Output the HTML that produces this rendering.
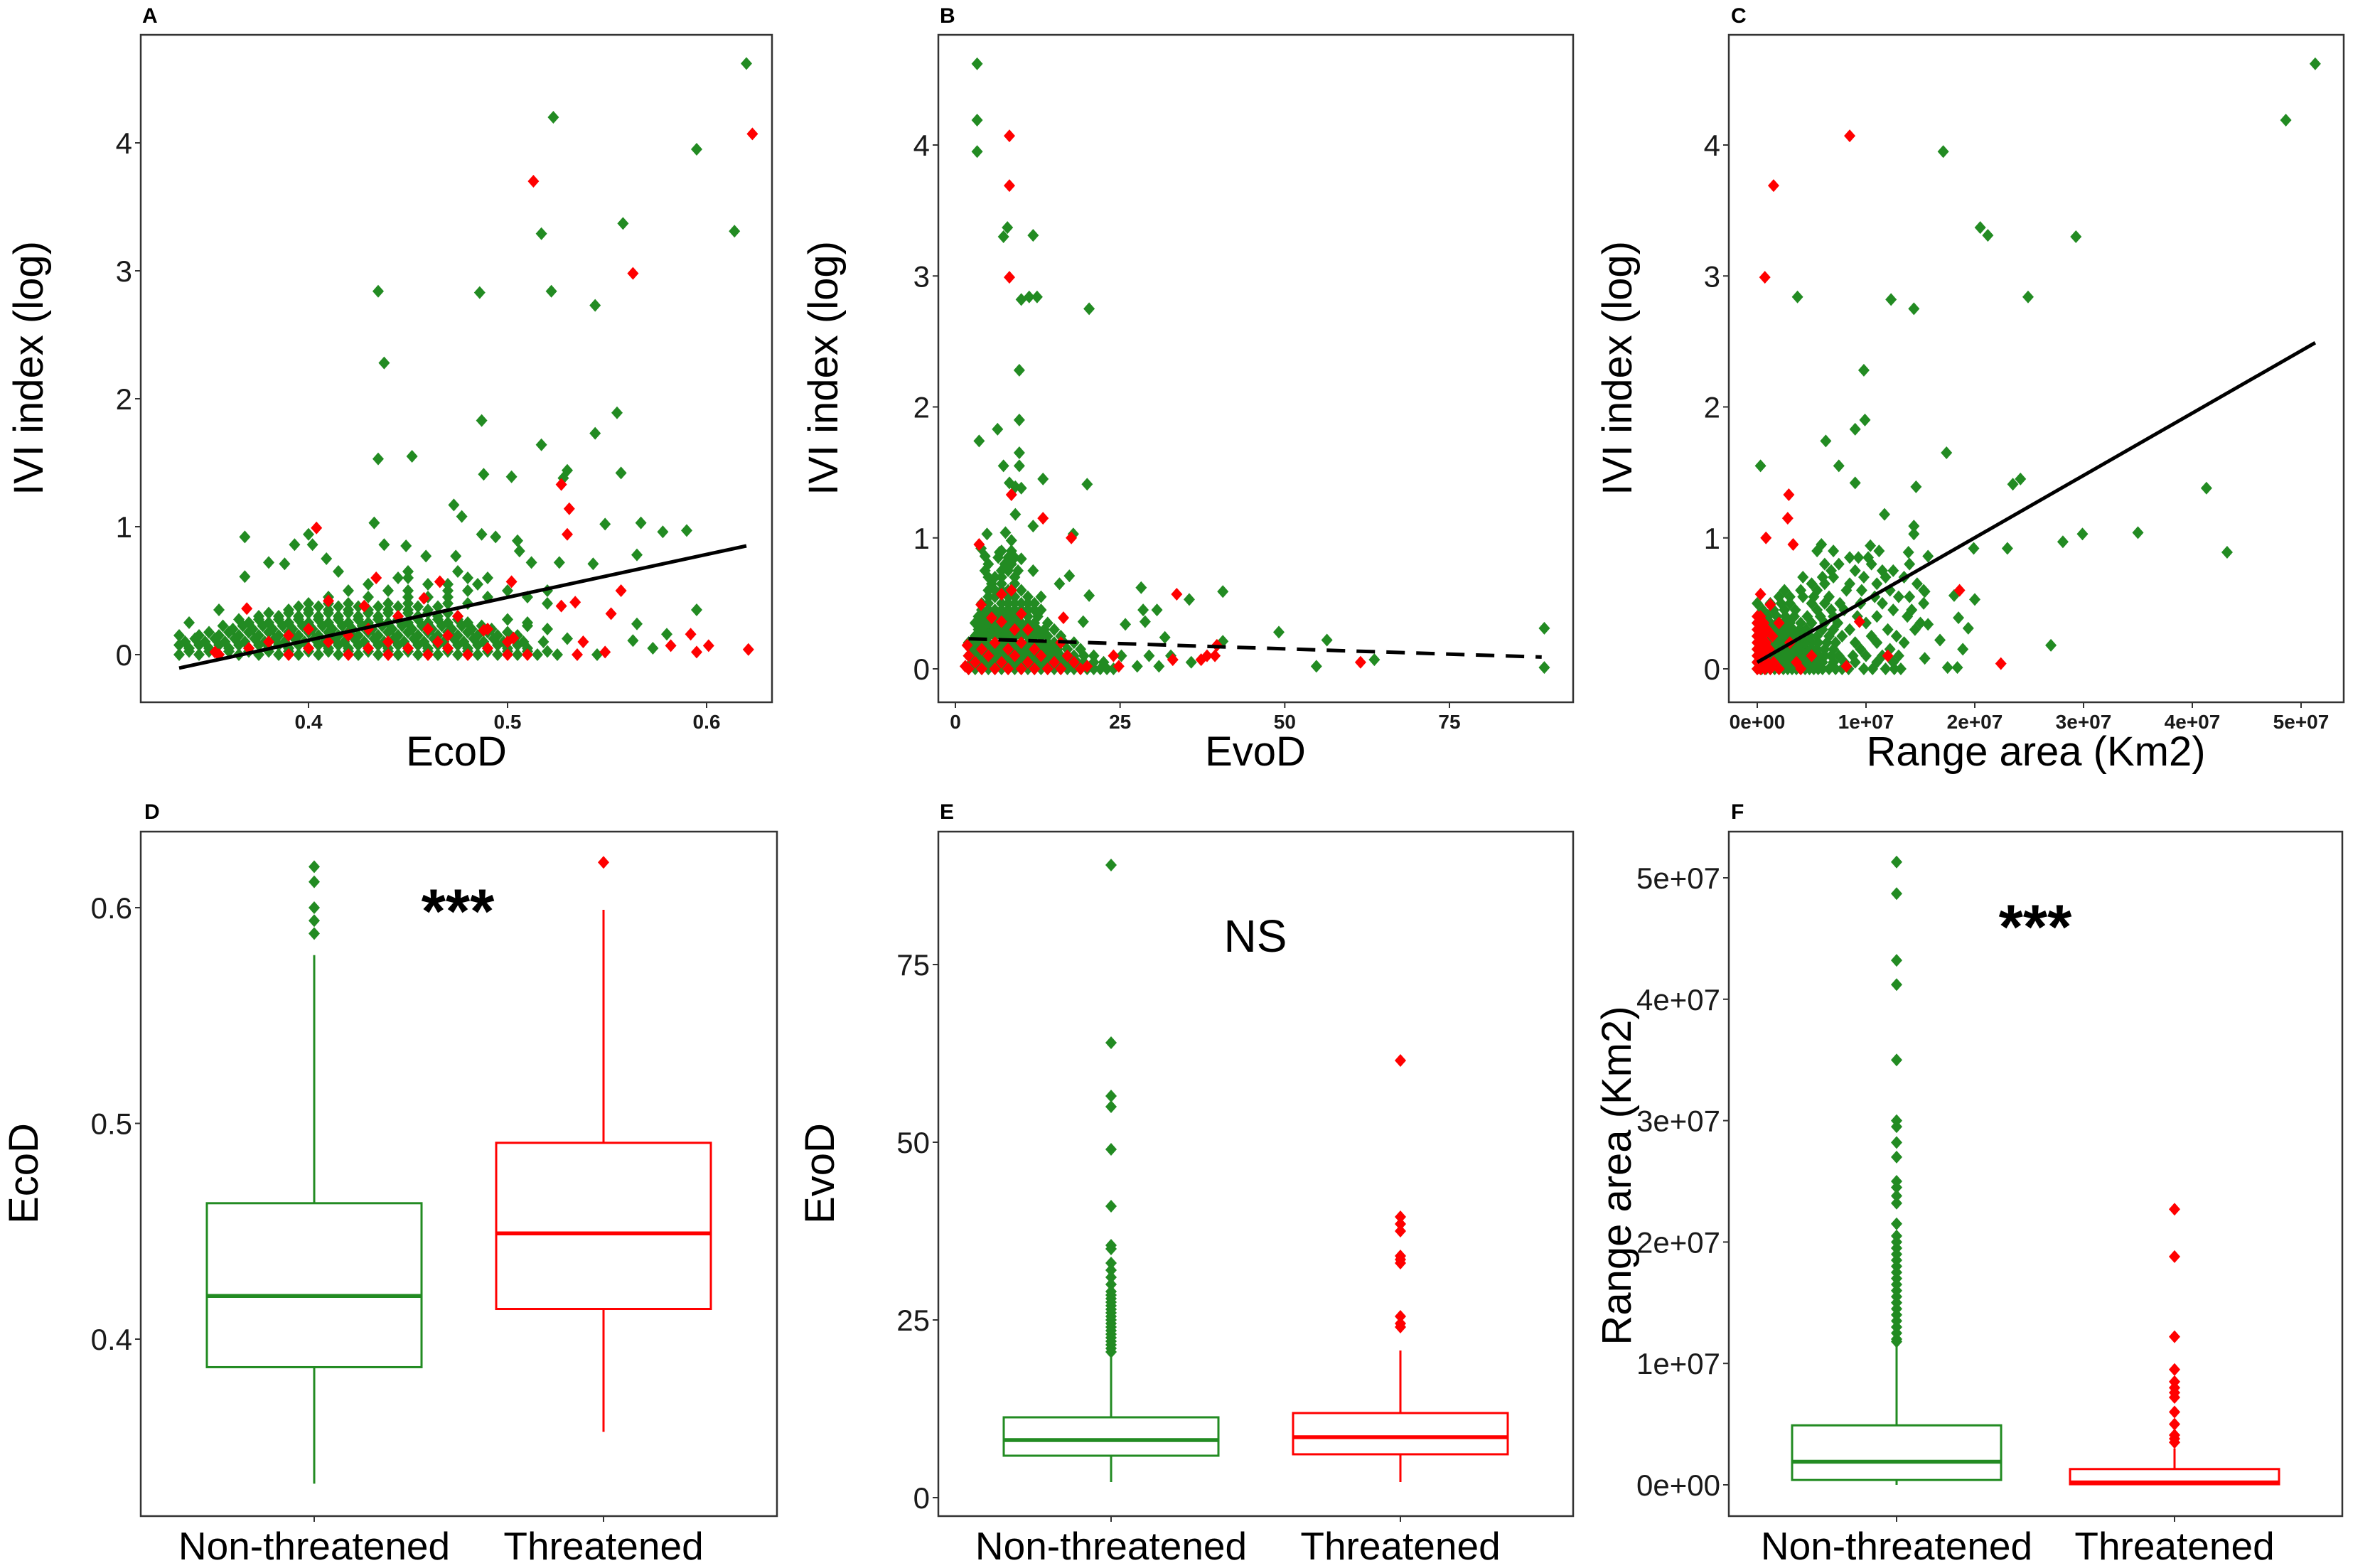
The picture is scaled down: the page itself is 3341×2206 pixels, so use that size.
<!DOCTYPE html>
<html>
<head>
<meta charset="utf-8">
<style>
html,body{margin:0;padding:0;background:#fff;}
svg{display:block;}
text{font-family:"Liberation Sans",sans-serif;fill:#000;}
.tk{font-size:42px;fill:#1a1a1a;}
.tkx{font-size:28px;font-weight:bold;fill:#1a1a1a;}
.ttl{font-size:58px;}
.cat{font-size:55px;}
.lt{font-size:30px;font-weight:bold;}
</style>
</head>
<body>
<svg id="fig" width="3341" height="2206" viewBox="0 0 3341 2206" xmlns="http://www.w3.org/2000/svg">
  <rect x="0" y="0" width="3341" height="2206" fill="#fff"/>
  <text class="lt" x="200" y="32">A</text>
  <text class="lt" x="1322" y="32">B</text>
  <text class="lt" x="2435" y="32">C</text>
  <text class="lt" x="203" y="1152">D</text>
  <text class="lt" x="1322" y="1152">E</text>
  <text class="lt" x="2435" y="1152">F</text>

  <text class="ttl" font-size="73" transform="translate(60,518) rotate(-90)" text-anchor="middle">IVI index (log)</text>
  <text class="ttl" font-size="73" transform="translate(1178,518) rotate(-90)" text-anchor="middle">IVI index (log)</text>
  <text class="ttl" font-size="73" transform="translate(2295,518) rotate(-90)" text-anchor="middle">IVI index (log)</text>
  <text class="ttl" x="642" y="1077" text-anchor="middle">EcoD</text>
  <text class="ttl" x="1766" y="1077" text-anchor="middle">EvoD</text>
  <text class="ttl" x="2864" y="1077" text-anchor="middle">Range area (Km2)</text>

  <text class="ttl" font-size="70" transform="translate(53,1651) rotate(-90)" text-anchor="middle">EcoD</text>
  <text class="ttl" font-size="70" transform="translate(1173,1651) rotate(-90)" text-anchor="middle">EvoD</text>
  <text class="ttl" font-size="66" transform="translate(2294,1654) rotate(-90)" text-anchor="middle">Range area (Km2)</text>

  <text x="644" y="1312" font-size="88" font-weight="bold" text-anchor="middle">***</text>
  <text x="1766" y="1339" font-size="64" text-anchor="middle">NS</text>
  <text x="2863" y="1334" font-size="88" font-weight="bold" text-anchor="middle">***</text>
</svg>
<script>
// ---------- data ----------
// Panel A (EcoD vs IVI)
const aGreenX = [0.62,0.523,0.595,0.517,0.558,0.614,0.522,0.435,0.486,0.544,0.438,0.487,0.555,0.544,0.517,0.435,0.452,0.488,0.502,0.557,0.530,0.528,0.473,0.477,0.433,0.549,0.567,0.578,0.590,0.368,0.393,0.40,0.402,0.438,0.449,0.487,0.494,0.505,0.506,0.565,0.595,0.459,0.474,0.409,0.38,0.388,0.512,0.526,0.543,0.368,0.573,0.58,0.563,0.565];
const aGreenY = [4.62,4.2,3.95,3.29,3.37,3.31,2.84,2.84,2.83,2.73,2.28,1.83,1.89,1.73,1.64,1.53,1.55,1.41,1.39,1.42,1.44,1.38,1.17,1.08,1.03,1.02,1.03,0.96,0.97,0.92,0.86,0.94,0.86,0.86,0.85,0.94,0.92,0.89,0.81,0.78,0.35,0.77,0.77,0.75,0.72,0.71,0.72,0.72,0.71,0.61,0.05,0.16,0.11,0.24];
const aRedX = [0.513,0.623,0.563,0.527,0.531,0.53,0.404,0.434,0.466,0.502,0.557,0.552,0.534,0.527,0.369,0.592,0.582,0.601,0.595,0.621,0.535,0.549,0.538,0.503,0.458,0.41,0.428,0.353,0.488];
const aRedY = [3.70,4.07,2.98,1.33,1.14,0.94,0.99,0.60,0.57,0.57,0.50,0.32,0.41,0.38,0.36,0.16,0.07,0.07,0.02,0.04,0.0,0.02,0.1,0.13,0.44,0.42,0.38,0.02,0.19];
const aGreenRowY = [0,0.05,0.1,0.15,0.2,0.25,0.3,0.35,0.4,0.45,0.5,0.55,0.6,0.65,0.025,0.075,0.125,0.175,0.225,0.275,0.325,0.375];
const aGreenRowX = [
 [0.335,0.345,0.355,0.365,0.375,0.385,0.395,0.405,0.415,0.425,0.435,0.445,0.455,0.465,0.475,0.485,0.495,0.505,0.515,0.525,0.545],
 [0.34,0.35,0.36,0.37,0.38,0.39,0.40,0.41,0.42,0.43,0.44,0.45,0.46,0.47,0.48,0.49,0.50,0.51],
 [0.338,0.348,0.358,0.368,0.378,0.388,0.398,0.408,0.418,0.428,0.438,0.448,0.458,0.468,0.478,0.488,0.498,0.508,0.518],
 [0.335,0.345,0.355,0.365,0.375,0.385,0.395,0.405,0.415,0.425,0.435,0.445,0.455,0.465,0.475,0.485,0.495,0.505],
 [0.362,0.372,0.382,0.392,0.402,0.412,0.422,0.432,0.442,0.452,0.462,0.472,0.482,0.492,0.52],
 [0.34,0.37,0.38,0.39,0.40,0.41,0.42,0.43,0.44,0.45,0.46,0.47,0.48,0.51],
 [0.375,0.385,0.395,0.405,0.415,0.425,0.435,0.445,0.455,0.465,0.475],
 [0.355,0.39,0.40,0.41,0.42,0.43,0.44,0.45,0.46],
 [0.40,0.41,0.42,0.44,0.45,0.47,0.48,0.52],
 [0.41,0.43,0.45,0.46,0.47,0.49,0.51],
 [0.42,0.44,0.45,0.47,0.48,0.50,0.52],
 [0.43,0.46,0.47,0.485],
 [0.445,0.45,0.48,0.49],
 [0.415,0.45,0.475],
 [0.34,0.35,0.36,0.37,0.38,0.39,0.40,0.41,0.42,0.43,0.44,0.45,0.46,0.47,0.48,0.49,0.50,0.51,0.52],
 [0.335,0.345,0.355,0.365,0.375,0.385,0.395,0.405,0.415,0.425,0.435,0.445,0.455,0.465,0.475,0.485,0.495,0.505],
 [0.343,0.353,0.363,0.373,0.383,0.393,0.403,0.413,0.423,0.433,0.443,0.453,0.463,0.473,0.483,0.493,0.503,0.53],
 [0.35,0.36,0.37,0.38,0.39,0.40,0.41,0.42,0.43,0.44,0.45,0.46,0.47,0.48,0.49,0.50],
 [0.357,0.367,0.377,0.387,0.397,0.407,0.417,0.427,0.437,0.447,0.457,0.467,0.477,0.487,0.51],
 [0.365,0.375,0.385,0.395,0.405,0.415,0.425,0.435,0.445,0.455,0.465,0.475,0.50],
 [0.38,0.39,0.40,0.41,0.42,0.43,0.44,0.45,0.46,0.47],
 [0.395,0.405,0.415,0.425,0.435,0.445,0.455,0.465]];
const aRedRowY = [0,0.05,0.1,0.15,0.2,0.3];
const aRedRowX = [[0.355,0.39,0.42,0.44,0.46,0.48,0.50,0.51],[0.37,0.40,0.43,0.45,0.47,0.49],[0.38,0.41,0.44,0.465,0.50],[0.39,0.42,0.47],[0.40,0.43,0.46,0.49],[0.445,0.475]];
const aFitX = [0.335,0.62];
const aFitY = [-0.105,0.85];
const aTicksX = [0.4,0.5,0.6];
const aTickLabelsX = ["0.4","0.5","0.6"];
const ivTicks = [0,1,2,3,4];

// Panel B (EvoD vs IVI)
const bGreenX = [3.3,3.3,3.3,7.3,7.9,11.8,10,11.2,12.4,20.3,9.7,9.7,6.4,3.6,9.7,7.3,9.7,8.2,9.1,10,13.3,20,9.1,11.8,17.9,4.8,7.6,8.5,3.9,4.5,10,6.7,11.8,17.3,15.8,20.3,28.2,35.5,40.6,28.5,30.6,28.8,19.4,25.8,49.1,56.4,31.8,40.6,89.4,89.4,54.8,63.6,35.8,30.9,27.6,29.4,25.2,32.7];
const bGreenY = [4.62,4.19,3.95,3.30,3.37,3.31,2.82,2.84,2.84,2.75,2.28,1.90,1.83,1.74,1.65,1.55,1.55,1.42,1.39,1.38,1.45,1.41,1.18,1.09,1.03,1.03,1.04,0.98,0.92,0.86,0.84,0.89,0.75,0.71,0.65,0.56,0.62,0.53,0.59,0.45,0.45,0.36,0.36,0.34,0.28,0.22,0.24,0.21,0.31,0.01,0.02,0.07,0.05,0.02,0.02,0.10,0.10,0.10];
const bRedX = [8.2,8.2,8.2,8.5,13.3,17.6,3.6,7,8.5,33.6,3.9,10,16.4,37.3,38.2,39.4,39.7,33,61.5,24,24.8,20,1.5,1.8,5.5,7];
const bRedY = [4.07,3.69,2.99,1.33,1.15,1.0,0.95,0.57,0.60,0.57,0.49,0.42,0.39,0.07,0.10,0.10,0.18,0.07,0.05,0.10,0.02,0.02,0.02,0.18,0.39,0.36];
const bGreenRowY = [0,0.05,0.1,0.15,0.2,0.25,0.3,0.35,0.4,0.45,0.5,0.55,0.6,0.65,0.7,0.75,0.8,0.85,0.9];
const bGreenRowX = [
 [2,3,4,5,6,7,8,9,10,11,12,13,14,15,16,17,18,19,20,21,22,23,24],
 [2.5,3.5,4.5,5.5,6.5,7.5,8.5,9.5,10.5,11.5,12.5,13.5,14.5,15.5,16.5,17.5,18.5,19.5,21,22.5],
 [2,3,4,5,6,7,8,9,10,11,12,13,14,15,16,17,18,19.5,21],
 [2.5,3.5,4.5,5.5,6.5,7.5,8.5,9.5,10.5,11.5,12.5,13.5,14.5,15.5,17,19],
 [2,3,4,5,6,7,8,9,10,11,12,13,14,15,16.5,18],
 [3,4,5,6,7,8,9,10,11,12,13,14,16],
 [3.5,4.5,5.5,6.5,7.5,8.5,9.5,10.5,11.5,12.5,13.5,15],
 [3,4,5,6,7,8,9,10,11,12,14],
 [3.5,4.5,5.5,6.5,7.5,8.5,9.5,11,12.5],
 [4,5,6,7,8,9,10,11,12,13],
 [4,5,7,8,9,10,11,12],
 [5,6,8,9,11,13],
 [5,6,7,8,10],
 [5.5,7,9],
 [5,6,7,9],
 [4.5,7,8,9.5],
 [5,7.5,8.5],
 [6.5,8,9],
 [7,8.5]];
const bRedRowY = [0,0.05,0.1,0.15,0.2,0.3];
const bRedRowX = [[2,4,6,8,10,12,14,16,19],[3,7,11,15,18],[2,5,9,13,17],[4,8,12],[6,10,16],[9,11]];
const bFitX = [2,89];
const bFitY = [0.23,0.09];
const bTicksX = [0,25,50,75];
const bTickLabelsX = ["0","25","50","75"];

// Panel C (Range area [1e7 km2] vs IVI)
const cGreenX = [5.13,4.86,1.71,2.05,2.12,2.93,0.37,1.23,2.49,1.44,0.98,0.99,0.9,0.63,1.74,0.03,0.75,0.9,1.46,2.35,2.42,4.13,1.17,1.44,1.44,3.5,2.99,2.81,4.32,1.99,2.3,0.59,1.04,1.57,1.39,2.7,2.0,1.81,1.85,1.94,1.89,1.75,1.84,1.54,1.68,1.57,1.54];
const cGreenY = [4.62,4.19,3.95,3.37,3.31,3.30,2.84,2.82,2.84,2.75,2.28,1.90,1.83,1.74,1.65,1.55,1.55,1.42,1.39,1.41,1.45,1.38,1.18,1.09,1.03,1.04,1.03,0.97,0.89,0.92,0.92,0.95,0.94,0.86,0.89,0.18,0.53,0.56,0.39,0.31,0.15,0.01,0.01,0.08,0.22,0.34,0.59];
const cRedX = [0.85,0.15,0.07,0.29,0.28,0.08,0.33,1.86,0.03,0.12,0.94,2.24,1.2,0.36,0.82];
const cRedY = [4.07,3.69,2.99,1.33,1.15,1.0,0.95,0.60,0.57,0.49,0.36,0.04,0.10,0.05,0.02];
const cGreenRowY = [0,0.05,0.1,0.15,0.2,0.25,0.3,0.35,0.4,0.45,0.5,0.55,0.6,0.65,0.7,0.75,0.8,0.85,0.9];
const cGreenRowX = [
 [0,0.04,0.08,0.12,0.16,0.2,0.24,0.28,0.32,0.36,0.4,0.44,0.48,0.52,0.56,0.6,0.66,0.72,0.78,0.84,0.98,1.06,1.18,1.26,1.32],
 [0,0.05,0.1,0.15,0.2,0.25,0.3,0.35,0.4,0.45,0.5,0.55,0.6,0.7,0.8,0.9,1.1,1.25],
 [0.02,0.07,0.12,0.17,0.22,0.27,0.32,0.37,0.42,0.47,0.52,0.57,0.62,0.68,0.75,0.88,1.0,1.15,1.3],
 [0,0.05,0.1,0.15,0.2,0.25,0.3,0.35,0.4,0.45,0.5,0.55,0.62,0.7,0.95,1.22],
 [0.02,0.08,0.14,0.2,0.26,0.32,0.38,0.44,0.5,0.56,0.64,0.72,0.9,1.1,1.35],
 [0,0.06,0.12,0.18,0.24,0.3,0.36,0.42,0.48,0.55,0.66,0.78,1.05,1.28],
 [0.03,0.09,0.15,0.21,0.27,0.33,0.39,0.45,0.6,0.7,0.85,1.2,1.45],
 [0,0.06,0.12,0.18,0.24,0.3,0.4,0.5,0.62,0.74,1.0,1.5],
 [0.02,0.1,0.18,0.26,0.34,0.46,0.58,0.7,0.92,1.1,1.38],
 [0.05,0.15,0.25,0.35,0.55,0.68,0.8,1.25,1.42],
 [0,0.12,0.22,0.3,0.5,0.62,0.76,0.95,1.15,1.53],
 [0.2,0.3,0.42,0.52,0.66,1.08,1.3,1.4],
 [0.25,0.4,0.55,0.82,0.96,1.22,1.53],
 [0.5,0.62,0.85,1.1,1.47],
 [0.42,0.6,0.7,0.98,1.18,1.35],
 [0.68,0.9,1.15,1.25],
 [0.62,0.75,1.05,1.4],
 [0.85,0.93,1.02],
 [0.55,0.7,1.12]];
const cRedRowY = [0,0.05,0.1,0.15,0.2,0.25,0.3,0.35,0.4];
const cRedRowX = [[0,0.03,0.07,0.12,0.2,0.4],[0,0.04,0.09,0.15],[0,0.03,0.08,0.5],[0,0.05,0.11],[0,0.03,0.08,0.3],[0,0.05,0.14],[0,0.03,0.09],[0,0.06,0.2],[0,0.03]];
const cFitX = [0,5.13];
const cFitY = [0.05,2.49];
const cTicksX = [0,1,2,3,4,5];
const cTickLabelsX = ["0e+00","1e+07","2e+07","3e+07","4e+07","5e+07"];

// Box plots: [whiskerLow, q1, median, q3, whiskerHigh]
const categories = ["Non-threatened","Threatened"];
const dStats = [[0.333,0.387,0.420,0.463,0.578],[0.357,0.414,0.449,0.491,0.599]];
const dOutGreen = [0.588,0.594,0.600,0.612,0.619];
const dOutRed = [0.621];
const dTicks = [0.4,0.5,0.6];
const dTickLabels = ["0.4","0.5","0.6"];
const eStats = [[2.2,5.9,8.1,11.3,20],[2.2,6.1,8.5,11.9,20.7]];
const eOutGreen = [20.5,21,21.5,22,22.5,23,23.5,24,24.5,25,25.5,26,26.5,27,27.5,28,28.5,29,30,31,32,33,35,35.5,41,49,55,56.5,64,89];
const eOutRed = [24,24.5,25.5,33,33.5,34,37.5,38.5,39.5,61.5];
const eTicks = [0,25,50,75];
const eTickLabels = ["0","25","50","75"];
const fStats = [[0.0,0.04,0.19,0.49,1.17],[0.0,0.005,0.02,0.13,0.30]];
const fOutGreen = [1.18,1.2,1.25,1.3,1.35,1.4,1.45,1.5,1.55,1.6,1.65,1.7,1.75,1.8,1.85,1.9,1.95,2.0,2.05,2.15,2.32,2.38,2.45,2.5,2.7,2.82,2.95,3.0,3.5,4.12,4.32,4.87,5.13];
const fOutRed = [0.35,0.38,0.41,0.5,0.6,0.72,0.76,0.8,0.85,0.95,1.22,1.88,2.27];
const fTicks = [0,1,2,3,4,5];
const fTickLabels = ["0e+00","1e+07","2e+07","3e+07","4e+07","5e+07"];

// ---------- drawing ----------
const NS = "http://www.w3.org/2000/svg";
const svg = document.getElementById('fig');
const GREEN = "#228B22", RED = "#FF0000", FRAME = "#333";
function mk(tag, attrs){
  const e = document.createElementNS(NS, tag);
  for (const k in attrs) e.setAttribute(k, attrs[k]);
  svg.appendChild(e);
  return e;
}
function lin(d0,p0,d1,p1){ return v => p0 + (v-d0)*(p1-p0)/(d1-d0); }
function diamond(x,y,col,name){
  const e = mk('polygon',{points:`${x},${y-9} ${x+8},${y} ${x},${y+9} ${x-8},${y}`, fill:col});
  
  
}
function frame(x0,y0,x1,y1,name){
  const e = mk('rect',{x:x0,y:y0,width:x1-x0,height:y1-y0,fill:'none',stroke:FRAME,'stroke-width':2.5});
  
  
}
function yTicks(ticks, labels, sy, xLeft, name){
  ticks.forEach((t,i)=>{
    const y = sy(t);
    const l = mk('line',{x1:xLeft-8,x2:xLeft,y1:y,y2:y,stroke:FRAME,'stroke-width':2});
    
    
    const tx = mk('text',{x:xLeft-12,y:y+15,'text-anchor':'end',class:'tk'});
    tx.textContent = labels[i];
    
    
  });
}
function xTicks(ticks, labels, sx, yBot, name){
  ticks.forEach((t,i)=>{
    const x = sx(t);
    const l = mk('line',{x1:x,x2:x,y1:yBot,y2:yBot+8,stroke:FRAME,'stroke-width':2});
    
    
    const tx = mk('text',{x:x,y:yBot+37,'text-anchor':'middle',class:'tkx'});
    tx.textContent = labels[i];
    
    
  });
}
function scatter(p){
  frame(p.x0,p.y0,p.x1,p.y1,p.id+'-plot-frame');
  p.gry.forEach((yv,i)=>p.grx[i].forEach(xv=>diamond(p.sx(xv),p.sy(yv),GREEN,p.id+'-point-non-threatened')));
  p.gx.forEach((xv,i)=>diamond(p.sx(xv),p.sy(p.gy[i]),GREEN,p.id+'-point-non-threatened'));
  p.rry.forEach((yv,i)=>p.rrx[i].forEach(xv=>diamond(p.sx(xv),p.sy(yv),RED,p.id+'-point-threatened')));
  p.rx.forEach((xv,i)=>diamond(p.sx(xv),p.sy(p.ry[i]),RED,p.id+'-point-threatened'));
  const ln = mk('line',{x1:p.sx(p.fx[0]),y1:p.sy(p.fy[0]),x2:p.sx(p.fx[1]),y2:p.sy(p.fy[1]),stroke:'#000','stroke-width':5});
  if (p.dash) ln.setAttribute('stroke-dasharray','26 16');
  
  
  yTicks(ivTicks, ivTicks.map(String), p.sy, p.x0, p.id+'-y-axis');
  xTicks(p.tx, p.tl, p.sx, p.y1, p.id+'-x-axis');
}
scatter({id:'panel-a',x0:198,y0:49,x1:1086,y1:988,sx:lin(0.4,434,0.6,994),sy:lin(0,921,4,201),
  gx:aGreenX,gy:aGreenY,rx:aRedX,ry:aRedY,gry:aGreenRowY,grx:aGreenRowX,rry:aRedRowY,rrx:aRedRowX,fx:aFitX,fy:aFitY,tx:aTicksX,tl:aTickLabelsX});
scatter({id:'panel-b',x0:1320,y0:49,x1:2213,y1:988,sx:lin(0,1344,75,2039),sy:lin(0,941,4,204),dash:true,
  gx:bGreenX,gy:bGreenY,rx:bRedX,ry:bRedY,gry:bGreenRowY,grx:bGreenRowX,rry:bRedRowY,rrx:bRedRowX,fx:bFitX,fy:bFitY,tx:bTicksX,tl:bTickLabelsX});
scatter({id:'panel-c',x0:2432,y0:49,x1:3297,y1:988,sx:lin(0,2472,5,3237),sy:lin(0,941,4,204),
  gx:cGreenX,gy:cGreenY,rx:cRedX,ry:cRedY,gry:cGreenRowY,grx:cGreenRowX,rry:cRedRowY,rrx:cRedRowX,fx:cFitX,fy:cFitY,tx:cTicksX,tl:cTickLabelsX});

function boxplot(p){
  frame(p.x0,p.y0,p.x1,p.y1,p.id+'-plot-frame');
  const cols = [GREEN, RED];
  const outs = [p.og, p.or];
  p.stats.forEach((s,i)=>{
    const cx = p.cx[i], hw = p.hw, c = cols[i];
    const w1 = mk('line',{x1:cx,x2:cx,y1:p.sy(s[0]),y2:p.sy(s[1]),stroke:c,'stroke-width':3});
    
    
    const w2 = mk('line',{x1:cx,x2:cx,y1:p.sy(s[3]),y2:p.sy(s[4]),stroke:c,'stroke-width':3});
    
    
    const b = mk('rect',{x:cx-hw,y:p.sy(s[3]),width:2*hw,height:Math.max(1,p.sy(s[1])-p.sy(s[3])),fill:'#fff',stroke:c,'stroke-width':3});
    
    
    const m = mk('line',{x1:cx-hw,x2:cx+hw,y1:p.sy(s[2]),y2:p.sy(s[2]),stroke:c,'stroke-width':5.5});
    
    
    outs[i].forEach(v=>diamond(cx,p.sy(v),c,p.id+'-outlier'));
    const t = mk('line',{x1:cx,x2:cx,y1:p.y1,y2:p.y1+8,stroke:FRAME,'stroke-width':2});
    
    
    const lb = mk('text',{x:cx,y:2194,'text-anchor':'middle',class:'cat'});
    lb.textContent = categories[i];
    
    
  });
  yTicks(p.ticks, p.labels, p.sy, p.x0, p.id+'-y-axis');
}
boxplot({id:'panel-d',x0:198,y0:1170,x1:1093,y1:2133,sy:lin(0.4,1884,0.6,1277),cx:[442,849],hw:151,stats:dStats,og:dOutGreen,or:dOutRed,ticks:dTicks,labels:dTickLabels});
boxplot({id:'panel-e',x0:1320,y0:1170,x1:2213,y1:2133,sy:lin(0,2107,75,1357),cx:[1563,1970],hw:151,stats:eStats,og:eOutGreen,or:eOutRed,ticks:eTicks,labels:eTickLabels});
boxplot({id:'panel-f',x0:2432,y0:1170,x1:3295,y1:2133,sy:lin(0,2089,5,1235),cx:[2668,3059],hw:147,stats:fStats,og:fOutGreen,or:fOutRed,ticks:fTicks,labels:fTickLabels});
</script>
</body>
</html>
